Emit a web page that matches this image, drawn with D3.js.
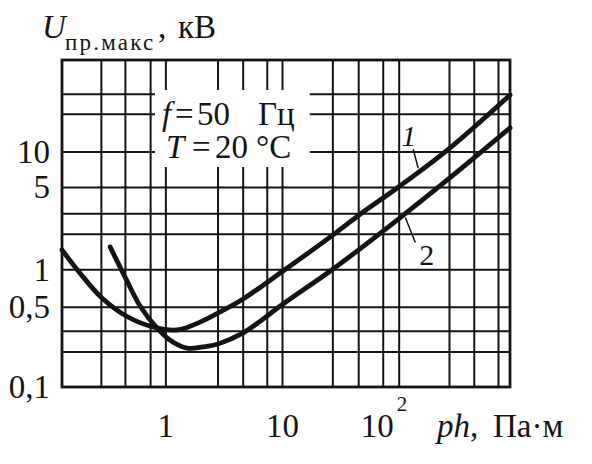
<!DOCTYPE html>
<html>
<head>
<meta charset="utf-8">
<script src="https://cdn.jsdelivr.net/npm/d3@7"></script>
<style>
  html, body { margin: 0; padding: 0; background: #ffffff; }
  svg { display: block; }
  text { font-family: "Liberation Serif", "Times New Roman", serif; fill: #141414; }
</style>
</head>
<body>
<svg id="chart" width="592" height="464"></svg>
<script>
// ---- data ----
const xGrid = [0.28, 0.45, 0.74, 1, 2.8, 4.6, 7.4, 10, 27, 45, 73, 100, 270, 440, 710];
const yGrid = [0.2, 0.3, 0.48, 1, 2, 3, 5, 10, 21, 31];
const xTickValues = [1, 10, 100];
const xTickLabels = ["1", "10", "10"];
const xTickSup = ["", "", "2"];
const yTickValues = [0.1, 0.48, 1, 5, 10];
const yTickLabels = ["0,1", "0,5", "1", "5", "10"];

// curve 1
const ph1 = [0.13, 0.185, 0.286, 0.469, 0.783, 1.26, 1.98, 2.94, 4.64, 10.2, 27.4, 49.6, 97, 261, 900];
const u1  = [1.46, 0.93, 0.57, 0.397, 0.324, 0.305, 0.356, 0.434, 0.56, 0.967, 1.96, 3.07, 4.91, 10.3, 30.3];
// curve 2
const ph2 = [0.336, 0.469, 0.607, 0.849, 1.16, 1.53, 2.1, 2.83, 4.64, 10.2, 27.4, 97, 261, 900];
const u2  = [1.55, 0.796, 0.488, 0.317, 0.241, 0.214, 0.219, 0.232, 0.288, 0.507, 1.006, 2.62, 5.74, 15.9];

const curveNames = ["1", "2"];
const labelAt = [150, 114];   // ph where each leader touches its curve

// ---- layout ----
const mLeft = 62, mRight = 510, mTop = 60, mBottom = 387;
const x = d3.scaleLog().domain([0.13, 900]).range([mLeft, mRight]);
const y = d3.scaleLog().domain([0.1, 60]).range([mBottom, mTop]);

const svg = d3.select("#chart");
const ink = "#141414";

// grid
const gx = svg.append("g").attr("transform", `translate(0,${mBottom})`)
  .call(d3.axisBottom(x).tickValues(xGrid).tickSize(-(mBottom - mTop)).tickFormat(""));
gx.select(".domain").remove();
gx.selectAll("line").attr("stroke", ink).attr("stroke-width", 2);

const gy = svg.append("g").attr("transform", `translate(${mLeft},0)`)
  .call(d3.axisLeft(y).tickValues(yGrid).tickSize(-(mRight - mLeft)).tickFormat(""));
gy.select(".domain").remove();
gy.selectAll("line").attr("stroke", ink).attr("stroke-width", 2);

// frame
svg.append("rect")
  .attr("x", x.range()[0]).attr("y", y.range()[1])
  .attr("width", x.range()[1] - x.range()[0]).attr("height", y.range()[0] - y.range()[1])
  .attr("fill", "none").attr("stroke", ink).attr("stroke-width", 2.8);

// condition box (white background hides grid)
const legendBg = svg.append("rect").attr("fill", "#ffffff");
const legend = svg.append("g").attr("font-size", 33);
const l1 = legend.append("text").attr("y", 125);
l1.append("tspan").attr("x", 162).attr("font-style", "italic").text("f");
l1.append("tspan").attr("x", 175).text("=");
l1.append("tspan").attr("x", 197).text("50");
l1.append("tspan").attr("x", 258).text("Гц");
const l2 = legend.append("text").attr("y", 158);
l2.append("tspan").attr("x", 166).attr("font-style", "italic").text("T");
l2.append("tspan").attr("x", 192).text("=");
l2.append("tspan").attr("x", 215).text("20");
l2.append("tspan").attr("x", 256).text("°C");
const bb = legend.node().getBBox();
legendBg.attr("x", bb.x - 7).attr("y", bb.y - 6)
  .attr("width", bb.width + 22).attr("height", bb.height + 8);

// curves
const line = d3.line().x(d => x(d[0])).y(d => y(d[1])).curve(d3.curveCatmullRom.alpha(0.5));
const series = [d3.zip(ph1, u1), d3.zip(ph2, u2)];
svg.append("g").selectAll("path").data(series).join("path")
  .attr("d", line)
  .attr("fill", "none").attr("stroke", ink).attr("stroke-width", 4.8)
  .attr("stroke-linecap", "round").attr("stroke-linejoin", "round");

// curve labels with leaders
function interp(phs, us, v) {
  const lx = phs.map(Math.log10), ly = us.map(Math.log10);
  const s = d3.scaleLinear().domain(lx).range(ly);
  return Math.pow(10, s(Math.log10(v)));
}
const labels = svg.append("g").attr("font-size", 30).attr("font-style", "italic");
{
  const cx = x(labelAt[0]), cy = y(interp(ph1, u1, labelAt[0]));
  svg.append("line").attr("x1", cx - 1).attr("y1", cy - 3).attr("x2", cx - 6).attr("y2", cy - 22)
    .attr("stroke", ink).attr("stroke-width", 1.5);
  labels.append("text").attr("x", cx - 18).attr("y", cy - 25).text(curveNames[0]);
}
{
  const cx = x(labelAt[1]), cy = y(interp(ph2, u2, labelAt[1]));
  svg.append("line").attr("x1", cx).attr("y1", cy + 4).attr("x2", cx + 10).attr("y2", cy + 29)
    .attr("stroke", ink).attr("stroke-width", 1.5);
  labels.append("text").attr("x", cx + 14).attr("y", cy + 51).attr("font-style", "normal").text(curveNames[1]);
}

// y tick labels
const ya = svg.append("g").attr("transform", `translate(${mLeft},0)`)
  .call(d3.axisLeft(y).tickValues(yTickValues).tickSize(0).tickPadding(12)
    .tickFormat((d, i) => yTickLabels[i]));
ya.select(".domain").remove();
ya.selectAll("text").attr("font-family", "Liberation Serif, serif").attr("font-size", 33)
  .attr("fill", ink).attr("dy", "0.33em");

// x tick labels
const xa = svg.append("g").attr("transform", `translate(0,${mBottom})`)
  .call(d3.axisBottom(x).tickValues(xTickValues).tickSize(0).tickPadding(0)
    .tickFormat((d, i) => xTickLabels[i]));
xa.select(".domain").remove();
xa.selectAll("text").attr("font-family", "Liberation Serif, serif").attr("font-size", 33)
  .attr("fill", ink).attr("y", 50).attr("dy", 0)
  .each(function (d, i) {
    if (xTickSup[i]) {
      d3.select(this).attr("text-anchor", "end").attr("x", 8);
      d3.select(this).append("tspan").attr("font-size", 21).attr("dx", 3).attr("dy", -26).text(xTickSup[i]);
    }
  });

// x axis title
const xt = svg.append("text").attr("x", 437).attr("y", 437).attr("font-size", 33);
xt.append("tspan").attr("font-style", "italic").text("ph");
xt.append("tspan").text(",");
svg.append("text").attr("x", 493).attr("y", 437).attr("font-size", 33).text("Па·м");

// y axis title
svg.append("text").attr("x", 42).attr("y", 38).attr("font-size", 33).attr("font-style", "italic").text("U");
svg.append("text").attr("x", 65).attr("y", 50).attr("font-size", 23).attr("letter-spacing", 2.2).text("пр.макс");
svg.append("text").attr("x", 158).attr("y", 38).attr("font-size", 33).text(",");
svg.append("text").attr("x", 178).attr("y", 38).attr("font-size", 33).text("кВ");
</script>
</body>
</html>
